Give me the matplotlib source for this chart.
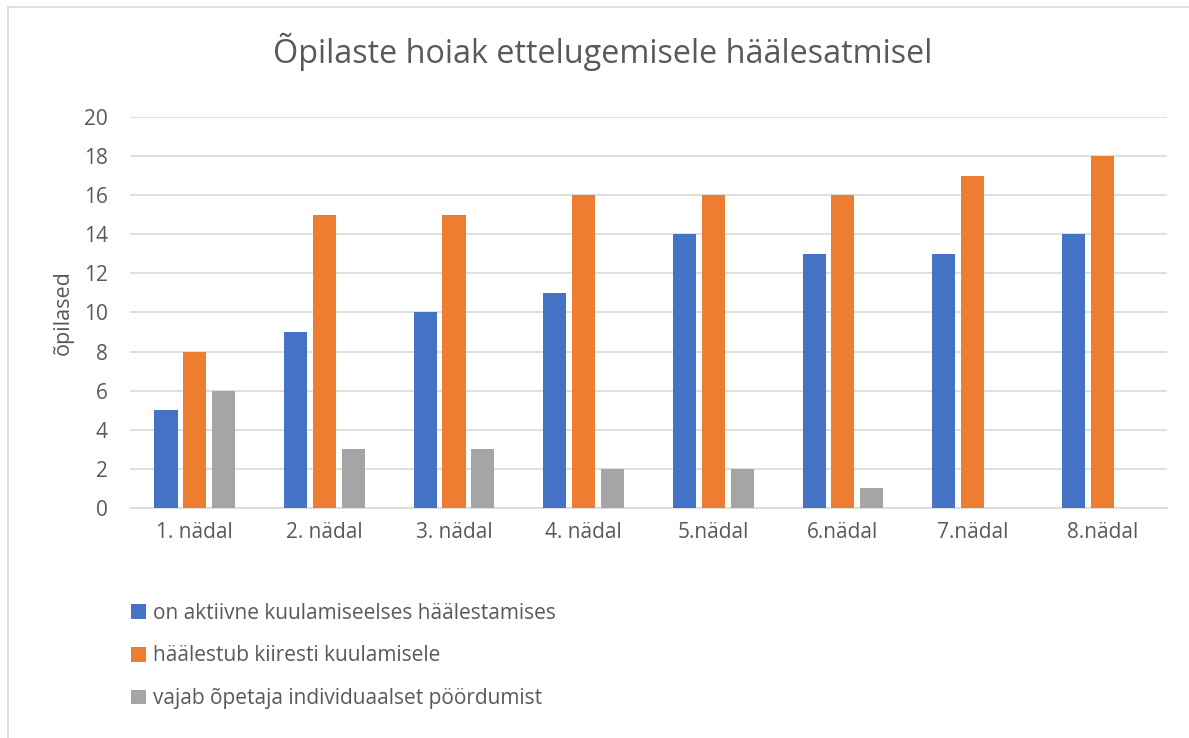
import matplotlib.pyplot as plt
import numpy as np
from matplotlib.patches import Patch, Rectangle

weeks = ["1. nädal", "2. nädal", "3. nädal", "4. nädal", "5.nädal", "6.nädal", "7.nädal", "8.nädal"]
aktiivne = [5, 9, 10, 11, 14, 13, 13, 14]
kiiresti = [8, 15, 15, 16, 16, 16, 17, 18]
individuaalne = [6, 3, 3, 2, 2, 1, 0, 0]

series_names = [
    "on aktiivne kuulamiseelses häälestamises",
    "häälestub kiiresti kuulamisele",
    "vajab õpetaja individuaalset pöördumist",
]
colors = ["#4472C4", "#ED7D31", "#A5A5A5"]
text_color = "#595959"

plt.rcParams["font.family"] = ["Open Sans", "DejaVu Sans"]

fig = plt.figure(figsize=(11.89, 7.38), dpi=100)
ax = fig.add_axes([0.1093, 0.3117, 0.8722, 0.5298])

# chart frame
fig.patches.append(Rectangle((8 / 1189, -0.01), 1.1, 1 - 7 / 738 + 0.01, transform=fig.transFigure,
                             fill=False, edgecolor="#d9d9d9", linewidth=1.2))

x = np.arange(len(weeks))
w = 0.178
step = 0.222
for i, (vals, c) in enumerate(zip([aktiivne, kiiresti, individuaalne], colors)):
    ax.bar(x + (i - 1) * step, vals, width=w, color=c, zorder=3)

ax.set_xlim(-0.5, len(weeks) - 0.5)
ax.set_ylim(0, 20)
ax.set_yticks(range(0, 21, 2))
ax.set_xticks(x)
ax.set_xticklabels(weeks)
ax.grid(axis="y", color="#d9d9d9", linewidth=1.2, zorder=0)
for s in ["top", "right", "left"]:
    ax.spines[s].set_visible(False)
ax.spines["bottom"].set_color("#d9d9d9")
ax.spines["bottom"].set_linewidth(1.2)
ax.tick_params(length=0, labelsize=15, labelcolor=text_color, pad=10)
ax.tick_params(axis="y", pad=16)
ax.set_ylabel("õpilased", fontsize=15.5, color=text_color, labelpad=7)

fig.text(0.507, 0.93, "Õpilaste hoiak ettelugemisele häälesatmisel", ha="center", va="center",
         fontsize=23.3, color=text_color)

handles = [Patch(facecolor=c, edgecolor="none") for c in colors]
fig.legend(handles, series_names, loc="upper left", bbox_to_anchor=(0.094, 0.209),
           frameon=False, fontsize=15, labelcolor=text_color, labelspacing=1.05,
           handlelength=0.72, handleheight=0.72, handletextpad=0.35)

fig.savefig("out.png", dpi=100)
